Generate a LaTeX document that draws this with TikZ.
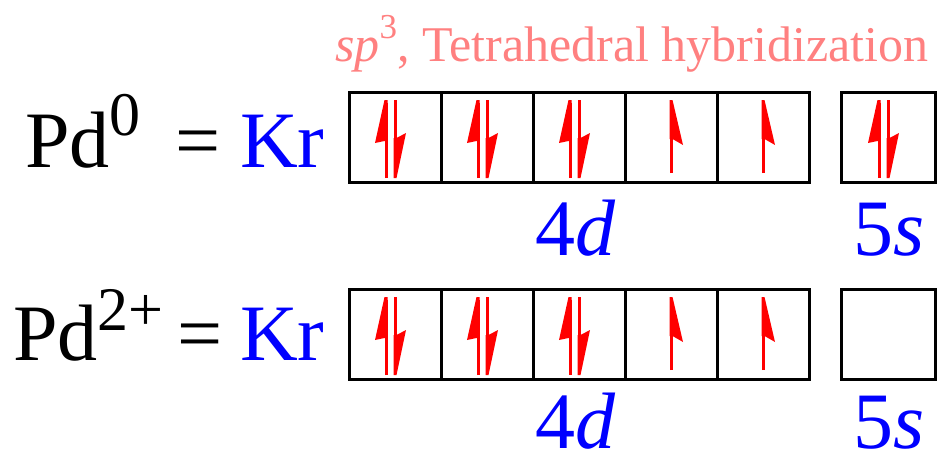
\documentclass[tikz,border=0pt]{standalone}
\usepackage{fontspec}
\setmainfont{Liberation Serif}
\definecolor{krblue}{RGB}{0,0,255}
\definecolor{spinred}{RGB}{255,0,0}
\definecolor{hybpink}{RGB}{255,128,128}

\tikzset{
  big/.style={font=\fontsize{80}{80}\selectfont, inner sep=0pt, anchor=base west},
  orb/.style={draw, line width=3pt, minimum width=92pt, minimum height=90pt, inner sep=0pt},
  spin/.style={spinred, line width=3pt}
}
\newcommand{\supr}[2]{\raisebox{#1pt}{\fontsize{62}{62}\selectfont #2}}
% paired electrons in one box
\newcommand{\spinpair}[1]{%
  \begin{scope}[shift={(#1)}]
    \draw[spin] (-9,41) -- (-9,-34);
    \fill[spinred] (-10.5,-37) -- (-20,6) -- (-10.5,4) -- (-7.5,4) -- (-7.5,-37) -- cycle;
    \draw[spin] (0,-37) -- (0,38);
    \fill[spinred] (1.5,41) -- (11,-4) -- (1.5,1) -- (-1.5,1) -- (-1.5,41) -- cycle;
  \end{scope}}
% single electron
\newcommand{\spinup}[1]{%
  \begin{scope}[shift={(#1)}]
    \draw[spin] (0,36) -- (0,-34);
    \fill[spinred] (-1.5,-37) -- (1.5,-37) -- (12,8) -- (1.5,2) -- (-1.5,2) -- cycle;
  \end{scope}}

\begin{document}
\begin{tikzpicture}[x=1pt, y=-1pt]
    \useasboundingbox (0,0) rectangle (939,452);

    % label on top
    \node[font=\fontsize{50}{50}\selectfont, text=hybpink, inner sep=0pt, anchor=base west]
      (hyb) at (335,62) {\textit{sp}\raisebox{24pt}{\fontsize{35}{35}\selectfont 3}, Tetrahedral hybridization};

    % Pd(0)
    \node[big] (pd0) at (25,167) {Pd\supr{32}{0}};
    \node[big] (eq0) at (175,167) {=};
    \node[big, text=krblue] (kr0) at (240,167) {Kr};
    \foreach \i in {1,...,5}
      \node[orb] (a\i) at ({349+92*(\i-0.5)},137) {};
    \node[orb, minimum width=94pt] (as) at (888,137) {};
    \spinpair{a1} \spinpair{a2} \spinpair{a3}
    \spinup{a4} \spinup{a5}
    \spinpair{as}
    \node[big, text=krblue] (d0) at (535,255) {4\textit{d}};
    \node[big, text=krblue] (s0) at (853,255) {5\textit{s}};

    % Pd(2+)
    \node[big] (pd2) at (13,360) {Pd\supr{30}{2+}};
    \node[big] (eq2) at (177,360) {=};
    \node[big, text=krblue] (kr2) at (240,360) {Kr};
    \foreach \i in {1,...,5}
      \node[orb] (b\i) at ({349+92*(\i-0.5)},334) {};
    \node[orb, minimum width=94pt] (bs) at (888,334) {};
    \spinpair{b1} \spinpair{b2} \spinpair{b3}
    \spinup{b4} \spinup{b5}
    \node[big, text=krblue] (d2) at (535,448) {4\textit{d}};
    \node[big, text=krblue] (s2) at (853,448) {5\textit{s}};
\end{tikzpicture}
\end{document}
